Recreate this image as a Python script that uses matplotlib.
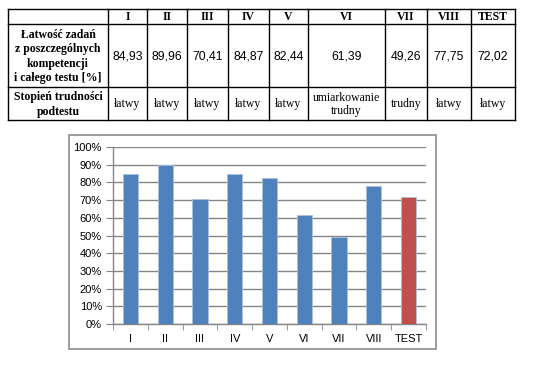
"""Łatwość zadań dla kompetencji I-VIII i całego testu: tabela + wykres słupkowy."""
import matplotlib
matplotlib.use("Agg")
import matplotlib.pyplot as plt
from matplotlib.patches import Rectangle
from matplotlib.ticker import FuncFormatter
import numpy as np

categories = ["I", "II", "III", "IV", "V", "VI", "VII", "VIII", "TEST"]
values = [84.93, 89.96, 70.41, 84.87, 82.44, 61.39, 49.26, 77.75, 72.02]
difficulty = ["łatwy", "łatwy", "łatwy", "łatwy", "łatwy",
              "umiarkowanie\ntrudny", "trudny", "łatwy", "łatwy"]
row_labels = ["Łatwość zadań\nz poszczególnych\nkompetencji\ni całego testu [%]",
              "Stopień trudności\npodtestu"]
y_ticks = np.arange(0, 101, 10)

W, H = 541, 381
fig = plt.figure(figsize=(W / 100, H / 100), dpi=100)

# overlay axes in pixel coordinates for the table and chart frame
ov = fig.add_axes([0, 0, 1, 1])
ov.set_xlim(0, W)
ov.set_ylim(H, 0)
ov.axis("off")

col_x = [8, 108, 147, 187, 228, 269, 308, 385, 427, 471, 515]
row_y = [9, 24, 87, 120]

for y in row_y:
    ov.plot([col_x[0], col_x[-1]], [y, y], color="black", lw=1.0)
for x in col_x:
    ov.plot([x, x], [row_y[0], row_y[-1]], color="black", lw=1.0)

serif = "Liberation Serif"
sans = "Liberation Sans"

for i, cat in enumerate(categories):
    cx = (col_x[i + 1] + col_x[i + 2]) / 2
    ov.text(cx, (row_y[0] + row_y[1]) / 2 + 0.5, cat, ha="center", va="center",
            family=serif, fontweight="bold", fontsize=8.5)
    ov.text(cx, (row_y[1] + row_y[2]) / 2 + 1, f"{values[i]:.2f}".replace(".", ","),
            ha="center", va="center", family=sans, fontsize=8.8)
    ov.text(cx, (row_y[2] + row_y[3]) / 2 + 1, difficulty[i], ha="center",
            va="center", family=serif, fontsize=8.5, linespacing=1.15)

lx = (col_x[0] + col_x[1]) / 2
ov.text(lx, (row_y[1] + row_y[2]) / 2 + 1, row_labels[0], ha="center",
        va="center", family=serif, fontweight="bold", fontsize=8.5,
        linespacing=1.25)
ov.text(lx, (row_y[2] + row_y[3]) / 2 + 1, row_labels[1], ha="center",
        va="center", family=serif, fontweight="bold", fontsize=8.5,
        linespacing=1.25)

# chart frame
ov.add_patch(Rectangle((69, 135), 436 - 69, 349 - 135, fill=False,
                       edgecolor="#8c8c8c", lw=1.2))

# bar chart
ax = fig.add_axes([113 / W, 1 - 324 / H, (426 - 113) / W, (324 - 147) / H])
x = np.arange(len(categories))
colors = ["#4F81BD"] * (len(categories) - 1) + ["#C0504D"]
ax.bar(x, values, width=0.44, color=colors, edgecolor="#a9c0dd", lw=0.6,
       zorder=3)
ax.set_xlim(-0.5, len(categories) - 0.5)
ax.set_ylim(0, 100)
ax.set_yticks(y_ticks)
ax.yaxis.set_major_formatter(FuncFormatter(lambda v, p: f"{v:.0f}%"))
ax.yaxis.grid(True, color="#868686", lw=1.0, zorder=0)
ax.set_axisbelow(True)

ax.set_xticks(x)
ax.set_xticklabels(categories)
ax.set_xticks(np.arange(-0.5, len(categories)), minor=True)
ax.tick_params(axis="x", which="major", length=0, pad=7)
ax.tick_params(axis="x", which="minor", length=4, color="#868686",
               direction="out")
ax.tick_params(axis="y", length=5, color="#868686", direction="out", pad=3)
for lab in ax.get_xticklabels() + ax.get_yticklabels():
    lab.set_family(sans)
    lab.set_fontsize(8)

for side in ["top", "right"]:
    ax.spines[side].set_visible(False)
for side in ["left", "bottom"]:
    ax.spines[side].set_color("#868686")
    ax.spines[side].set_linewidth(1.0)

fig.savefig("out.png", dpi=100)
